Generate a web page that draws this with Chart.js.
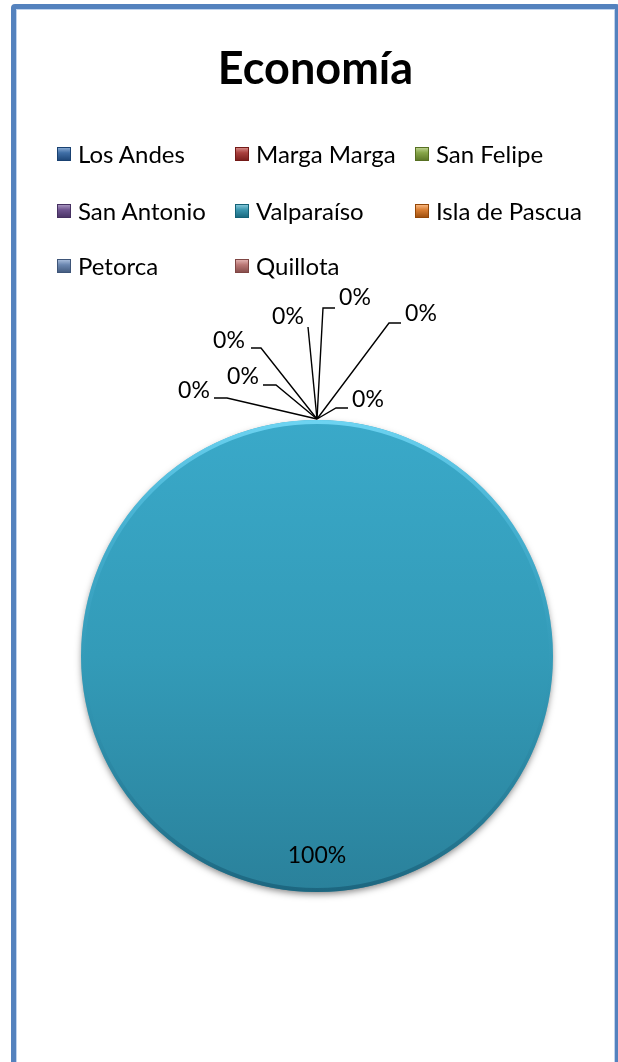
<!DOCTYPE html>
<html>
<head>
<meta charset="utf-8">
<script src="https://cdn.jsdelivr.net/npm/chart.js@4.4.0/dist/chart.umd.min.js"></script>
<style>
html,body{margin:0;padding:0;background:#fff;width:618px;height:1062px;overflow:hidden;font-family:Lato,"Open Sans",sans-serif;}
#frame{position:absolute;left:11px;top:4px;width:609px;height:1120px;border:5px solid #5482BE;border-radius:4px;box-sizing:border-box;box-shadow:inset 0 0 0 1px #BFD3EE;}
#c{position:absolute;left:0;top:0;}
#title{position:absolute;left:11px;width:609px;top:40px;text-align:center;font-weight:bold;font-size:45px;line-height:54px;color:#000;}
.lg{position:absolute;font-size:24px;line-height:28px;color:#000;white-space:nowrap;}
.mk{position:absolute;width:14px;height:14px;box-sizing:border-box;}
</style>
</head>
<body>
<div id="frame"></div>
<canvas id="c" width="618" height="1062"></canvas>
<div id="title">Economía</div>
<div id="legend"></div>
<script>
// ---- data ----
const chartTitle = 'Economía';
const categories = ['Los Andes','Marga Marga','San Felipe','San Antonio','Valparaíso','Isla de Pascua','Petorca','Quillota'];
const values = [0, 0, 0, 0, 100, 0, 0, 0];
const seriesColors = ['#4F81BD','#C0504D','#9BBB59','#8064A2','#4BACC6','#F79646','#7F9CC8','#D38C8A'];

// ---- style (layout only) ----
const legendCols = [57, 235, 415];
const legendRowTops = [140, 196.5, 252];
// gradient shading (top, middle, bottom) used for the big slice fill
const fillShades = { 'Valparaíso': ['#3AA9C9', '#339BB8', '#2A819B'] };
// offsets of leader lines for zero-value labels, relative to slice anchor:
// [textDx, textDy, lineEndDx, lineEndDy, elbowDx, elbowDy]
const zeroLabelLayout = [
  [51, -19, 31, -11, 19, -11],
  [104, -105, 84, -96, 72, -96],
  [38, -121, 18, -111, 6, -111],
  [-29, -102, -9, -92, -9, -92],
  [-88, -78, -66, -71, -56, -71],
  [-74, -42, -54, -34, -41, -34],
  [-123, -28, -103, -21, -90, -21]
];

const total = values.reduce((a, b) => a + b, 0);
const pctLabels = values.map(v => Math.round(v / total * 100) + '%');

function rgb(hex) {
  const n = parseInt(hex.slice(1), 16);
  return [(n >> 16) & 255, (n >> 8) & 255, n & 255];
}
function shade(hex, f) {
  let [r, g, b] = rgb(hex);
  if (f >= 0) { r += (255 - r) * f; g += (255 - g) * f; b += (255 - b) * f; }
  else { r *= 1 + f; g *= 1 + f; b *= 1 + f; }
  return 'rgb(' + Math.round(r) + ',' + Math.round(g) + ',' + Math.round(b) + ')';
}
function deep(hex, f) {
  let c = rgb(hex);
  const mx = Math.max(...c);
  c = c.map(v => v * (1 + f) - (mx - v) * 0.5 * Math.abs(f));
  return 'rgb(' + c.map(v => Math.max(0, Math.round(v))).join(',') + ')';
}

// legend (HTML)
const legendEl = document.getElementById('legend');
categories.forEach((name, i) => {
  const col = i % 3, row = Math.floor(i / 3);
  const x = legendCols[col], y = legendRowTops[row];
  const mk = document.createElement('div');
  mk.className = 'mk';
  mk.style.left = x + 'px';
  mk.style.top = (y + 7) + 'px';
  const c = seriesColors[i];
  mk.style.background = 'linear-gradient(to bottom,' + shade(c, 0.3) + ' 0%,' + deep(c, -0.12) + ' 40%,' + deep(c, -0.35) + ' 100%)';
  mk.style.border = '1px solid ' + deep(c, -0.4);
  legendEl.appendChild(mk);
  const t = document.createElement('div');
  t.className = 'lg';
  t.style.left = (x + 21) + 'px';
  t.style.top = y + 'px';
  t.textContent = name;
  legendEl.appendChild(t);
});

const piePlugin = {
  id: 'excelPie',
  beforeDatasetsDraw(chart) {
    const meta = chart.getDatasetMeta(0);
    const el = meta.data[values.indexOf(Math.max(...values))];
    const ctx = chart.ctx;
    ctx.save();
    ctx.shadowColor = 'rgba(0,0,0,0.5)';
    ctx.shadowBlur = 7;
    ctx.shadowOffsetY = 3;
    ctx.fillStyle = '#2A819B';
    ctx.beginPath();
    ctx.arc(el.x, el.y, el.outerRadius - 1, 0, Math.PI * 2);
    ctx.fill();
    ctx.restore();
  },
  afterDatasetsDraw(chart) {
    const meta = chart.getDatasetMeta(0);
    const ctx = chart.ctx;
    const big = meta.data[values.indexOf(Math.max(...values))];
    ctx.save();
    const g = ctx.createLinearGradient(0, big.y - big.outerRadius, 0, big.y + big.outerRadius);
    g.addColorStop(0, 'rgba(110,212,242,1)');
    g.addColorStop(0.2, 'rgba(90,195,228,0.5)');
    g.addColorStop(0.55, 'rgba(50,150,180,0.2)');
    g.addColorStop(1, 'rgba(25,95,120,0.8)');
    ctx.strokeStyle = g;
    ctx.lineWidth = 4;
    ctx.beginPath();
    ctx.arc(big.x, big.y, big.outerRadius - 2, 0, Math.PI * 2);
    ctx.stroke();
    ctx.restore();

    ctx.save();
    ctx.font = '23px Lato, "Open Sans", sans-serif';
    ctx.fillStyle = '#000';
    ctx.strokeStyle = '#000';
    ctx.lineWidth = 1.4;
    ctx.textAlign = 'center';
    ctx.textBaseline = 'middle';
    let z = 0;
    meta.data.forEach((el, i) => {
      if (values[i] === 0) {
        const L = zeroLabelLayout[z++];
        if (!L) return;
        const ax = el.x + el.outerRadius * Math.cos(el.startAngle);
        const ay = el.y + el.outerRadius * Math.sin(el.startAngle) - 1;
        ctx.beginPath();
        ctx.moveTo(ax, ay);
        ctx.lineTo(ax + L[4], ay + L[5]);
        ctx.lineTo(ax + L[2], ay + L[3]);
        ctx.stroke();
        ctx.fillText(pctLabels[i], ax + L[0], ay + L[1]);
      } else {
        const mid = (el.startAngle + el.endAngle) / 2;
        const rr = el.outerRadius * 0.845;
        ctx.fillText(pctLabels[i], el.x + rr * Math.cos(mid), el.y + rr * Math.sin(mid));
      }
    });
    ctx.restore();
  }
};

new Chart(document.getElementById('c'), {
  type: 'pie',
  data: {
    labels: categories,
    datasets: [{
      data: values,
      backgroundColor: (ctx) => {
        const chart = ctx.chart;
        const base = seriesColors[ctx.dataIndex];
        const ca = chart.chartArea;
        if (!ca) return base;
        const s = fillShades[categories[ctx.dataIndex]] || [deep(base, -0.1), deep(base, -0.18), deep(base, -0.3)];
        const g = chart.ctx.createLinearGradient(0, ca.top, 0, ca.bottom);
        g.addColorStop(0, s[0]);
        g.addColorStop(0.5, s[1]);
        g.addColorStop(1, s[2]);
        return g;
      },
      borderWidth: 0,
      hoverOffset: 0,
      offset: 0
    }]
  },
  options: {
    responsive: false,
    animation: false,
    events: [],
    layout: { padding: { left: 81, right: 65, top: 420, bottom: 170 } },
    plugins: {
      legend: { display: false },
      title: { display: false, text: chartTitle },
      tooltip: { enabled: false }
    }
  },
  plugins: [piePlugin]
});
</script>
</body>
</html>
